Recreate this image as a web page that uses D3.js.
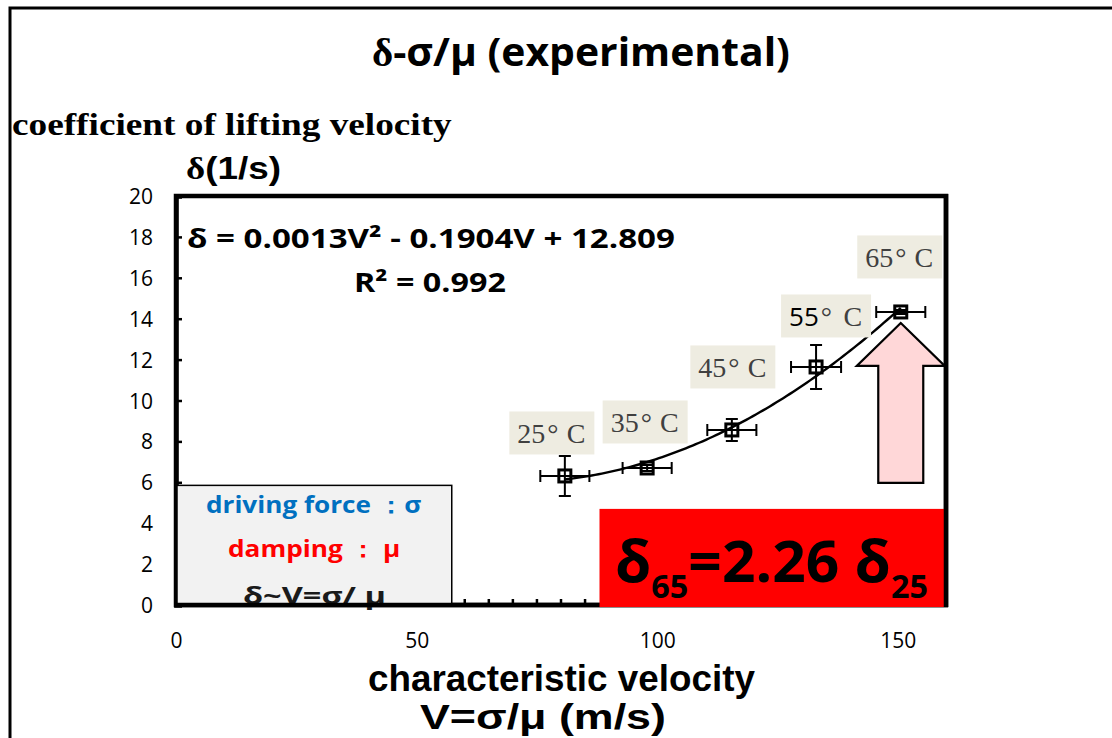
<!DOCTYPE html>
<html>
<head>
<meta charset="utf-8">
<script src="https://cdn.jsdelivr.net/npm/d3@7"></script>
<style>
  html, body { margin: 0; padding: 0; background: #fff; }
  svg { display: block; }
</style>
</head>
<body>
<svg id="chart" width="1112" height="738"></svg>
<script>
// Measured lifting-velocity coefficient vs. characteristic velocity
const temperatures = ["25", "35", "45", "55", "65"];
const velocity = [80.8, 97.9, 115.5, 133.0, 150.6];      // V = σ/μ (m/s)
const delta = [6.31, 6.70, 8.56, 11.64, 14.33];           // δ (1/s)
const velocityError = [5.1, 5.1, 5.1, 5.2, 5.1];
const deltaError = [0.98, 0.15, 0.54, 1.08, 0.10];

const xTickLabels = [0, 50, 100, 150];
const yTickLabels = [0, 2, 4, 6, 8, 10, 12, 14, 16, 18, 20];
const xMinorTicks = [5, 10, 15, 20, 25, 30, 35, 40, 45, 50, 55, 60, 65, 70, 75, 80,
                     85, 90, 95, 100, 105, 110, 115, 120, 125, 130, 135, 140, 145, 150, 155];

const equationText = "δ = 0.0013V² - 0.1904V + 12.809";
const rSquaredText = "R² = 0.992";
const noteLines = ["driving force ：σ", "damping ： μ", "δ~V=σ/ μ"];

// ---------- layout ----------
const W = 1112, H = 738;
const plot = { left: 176, right: 946, top: 196, bottom: 605 };
const SANS = "'Open Sans', 'Noto Sans', sans-serif";
const ARIAL = "'Liberation Sans', Arial, sans-serif";
const SERIF = "'Liberation Serif', 'Times New Roman', serif";

const svg = d3.select("#chart");
svg.append("rect").attr("width", W).attr("height", H).attr("fill", "#fff");

const x = d3.scaleLinear().domain([0, 160]).range([plot.left, plot.right]);
const y = d3.scaleLinear().domain([0, 20]).range([plot.bottom, plot.top]);

const points = velocity.map((v, i) => ({
  t: temperatures[i], v, d: delta[i], ev: velocityError[i], ed: deltaError[i]
}));

// Places a text so its advance width spans `width` px starting at (x0, baseline)
function fitText(parent, x0, baseline, width, build) {
  const t = parent.append("text").attr("x", 0).attr("y", 0);
  build(t);
  const w = t.node().getComputedTextLength();
  t.attr("transform", `translate(${x0},${baseline}) scale(${width / w},1)`);
  return t;
}

// outer frame
svg.append("path")
  .attr("d", `M10,${H} V8 H${W}`)
  .attr("fill", "none").attr("stroke", "#000").attr("stroke-width", 3);

// title
fitText(svg, 372, 66, 418, t => {
  t.attr("font-family", SANS).attr("font-weight", 700).attr("font-size", 39).attr("fill", "#000");
  t.append("tspan").attr("font-family", SERIF).text("δ");
  t.append("tspan").text("-σ/μ (experimental)");
});

// y-axis titles
fitText(svg, 12, 135, 440, t => {
  t.attr("font-family", SERIF).attr("font-weight", 700).attr("font-size", 31).attr("fill", "#000")
    .text("coefficient of lifting velocity");
});
fitText(svg, 186, 179, 95, t => {
  t.attr("font-family", ARIAL).attr("font-weight", 700).attr("font-size", 31).attr("fill", "#000");
  t.append("tspan").attr("font-family", SERIF).text("δ");
  t.append("tspan").text("(1/s)");
});

// x-axis titles
fitText(svg, 368, 691, 387, t => {
  t.attr("font-family", ARIAL).attr("font-weight", 700).attr("font-size", 37).attr("fill", "#000")
    .text("characteristic velocity");
});
fitText(svg, 420, 729, 246, t => {
  t.attr("font-family", ARIAL).attr("font-weight", 700).attr("font-size", 35).attr("fill", "#000")
    .text("V=σ/μ (m/s)");
});

// plot frame
svg.append("rect")
  .attr("x", plot.left).attr("y", plot.top)
  .attr("width", plot.right - plot.left).attr("height", plot.bottom - plot.top)
  .attr("fill", "#fff").attr("stroke", "#000").attr("stroke-width", 4.5);

// y axis: inward ticks, labels on the left
const yAxis = d3.axisLeft(y).tickValues(yTickLabels).tickSize(-6).tickPadding(0).tickFormat(d3.format("d"));
const gy = svg.append("g").attr("transform", `translate(${plot.left},0)`).call(yAxis);
gy.select(".domain").attr("stroke", "#000").attr("stroke-width", 4.5);
gy.selectAll(".tick line").attr("stroke", "#000").attr("stroke-width", 2.5);
gy.selectAll(".tick text")
  .attr("x", 153 - plot.left).attr("dy", "0.36em")
  .attr("font-family", SANS).attr("font-size", 21).attr("fill", "#000");

// x-axis labels (minor ticks drawn inside the frame)
const xAxis = d3.axisBottom(x).tickValues(xTickLabels).tickSize(0).tickPadding(0).tickFormat(d3.format("d"));
const gx = svg.append("g").attr("transform", `translate(0,${plot.bottom})`).call(xAxis);
gx.select(".domain").remove();
gx.selectAll(".tick text")
  .attr("y", 43).attr("dy", 0)
  .attr("font-family", SANS).attr("font-size", 21).attr("fill", "#000");

svg.append("g").selectAll("line").data(xMinorTicks).join("line")
  .attr("x1", d => x(d)).attr("x2", d => x(d))
  .attr("y1", plot.bottom).attr("y2", plot.bottom - 6)
  .attr("stroke", "#000").attr("stroke-width", 2.5);

// note box (lower left)
const noteBox = svg.append("g");
noteBox.append("rect")
  .attr("x", x(0) + 1).attr("y", y(5.85))
  .attr("width", x(57.3) - x(0) - 1).attr("height", y(0) - y(5.85))
  .attr("fill", "#f2f2f2").attr("stroke", "#000").attr("stroke-width", 1.5);
const noteColors = ["#0070c0", "#ff0000", "#1a1a1a"];
const noteSpans = [[206, 513, 215], [228, 557, 172], [243, 604, 143]];
noteLines.forEach((line, i) => {
  const [nx, nb, nw] = noteSpans[i];
  fitText(noteBox, nx, nb, nw, t => {
    t.attr("font-family", SANS).attr("font-weight", 700).attr("font-size", 23)
      .attr("fill", noteColors[i]).text(line);
  });
});

// x axis line drawn over the note box
svg.append("line")
  .attr("x1", plot.left - 2).attr("x2", plot.right + 2)
  .attr("y1", plot.bottom).attr("y2", plot.bottom)
  .attr("stroke", "#000").attr("stroke-width", 4.5);

// quadratic least-squares trendline through the measurements
function quadFit(xs, ys) {
  const n = xs.length;
  const s = [0, 0, 0, 0, 0], b = [0, 0, 0];
  for (let i = 0; i < n; i++) {
    const xi = xs[i], yi = ys[i];
    for (let k = 0; k < 5; k++) s[k] += Math.pow(xi, k);
    for (let k = 0; k < 3; k++) b[k] += yi * Math.pow(xi, k);
  }
  const A = [[s[0], s[1], s[2], b[0]], [s[1], s[2], s[3], b[1]], [s[2], s[3], s[4], b[2]]];
  for (let c = 0; c < 3; c++) {
    for (let r = c + 1; r < 3; r++) {
      const f = A[r][c] / A[c][c];
      for (let k = c; k < 4; k++) A[r][k] -= f * A[c][k];
    }
  }
  const coef = [0, 0, 0];
  for (let r = 2; r >= 0; r--) {
    let v = A[r][3];
    for (let k = r + 1; k < 3; k++) v -= A[r][k] * coef[k];
    coef[r] = v / A[r][r];
  }
  return v => coef[0] + coef[1] * v + coef[2] * v * v;
}
const trend = quadFit(velocity, delta);
const vMin = d3.min(velocity), vMax = d3.max(velocity);
const trendPts = d3.range(0, 101).map(k => vMin + (vMax - vMin) * k / 100);
svg.append("path")
  .attr("d", d3.line().x(v => x(v)).y(v => y(trend(v)))(trendPts))
  .attr("fill", "none").attr("stroke", "#000").attr("stroke-width", 2.4);

// error bars
const eb = svg.append("g").attr("stroke", "#000").attr("stroke-width", 2).attr("fill", "none");
const cap = 6;
points.forEach(p => {
  const cx = x(p.v), cy = y(p.d);
  const x0 = x(p.v - p.ev), x1 = x(p.v + p.ev);
  const y0 = y(p.d - p.ed), y1 = y(p.d + p.ed);
  eb.append("path").attr("d",
    `M${x0},${cy}H${x1}M${x0},${cy - cap}V${cy + cap}M${x1},${cy - cap}V${cy + cap}` +
    `M${cx},${y0}V${y1}M${cx - cap},${y0}H${cx + cap}M${cx - cap},${y1}H${cx + cap}`);
});

// square markers
svg.append("g").selectAll("rect").data(points).join("rect")
  .attr("x", d => x(d.v) - 6).attr("y", d => y(d.d) - 6)
  .attr("width", 12).attr("height", 12)
  .attr("fill", "none").attr("stroke", "#000").attr("stroke-width", 3);

// temperature labels (box centre offsets from each point, px)
const labelOffsets = [[-13, -43], [-2, -46], [1, -63], [10, -51], [-1, -55]];
const labelWidths = [85, 85, 85, 90, 85];
const lab = svg.append("g");
points.forEach((p, i) => {
  const cx = x(p.v) + labelOffsets[i][0], cy = y(p.d) + labelOffsets[i][1];
  const w = labelWidths[i], h = 43;
  const left = cx - w / 2, right = cx + w / 2, base = cy + 10;
  lab.append("rect").attr("x", left).attr("y", cy - h / 2)
    .attr("width", w).attr("height", h).attr("fill", "#eeece1");
  const num = lab.append("text").attr("x", left + 8).attr("y", base)
    .attr("font-family", SERIF).attr("font-size", 28).attr("fill", "#404040");
  if (p.t === "55") {
    num.append("tspan").attr("font-family", SANS).attr("fill", "#000").attr("font-size", 26).text(p.t);
  } else {
    num.append("tspan").text(p.t);
  }
  num.append("tspan").attr("dx", 2).text("°");
  lab.append("text").attr("x", right - 9).attr("y", base).attr("text-anchor", "end")
    .attr("font-family", SERIF).attr("font-size", 28).attr("fill", "#404040").text("C");
});

// pink arrow pointing up at the 65 °C point
const lastPt = points[points.length - 1];
const tipX = x(lastPt.v), tipY = y(lastPt.d) + 11;
const headH = 43, headHalf = 44, shaftHalf = 22.5, arrowLen = 160;
svg.append("path")
  .attr("d", `M${tipX},${tipY} L${tipX + headHalf},${tipY + headH} H${tipX + shaftHalf}` +
    ` V${tipY + arrowLen} H${tipX - shaftHalf} V${tipY + headH} H${tipX - headHalf} Z`)
  .attr("fill", "#ffd7d8").attr("stroke", "#000").attr("stroke-width", 2.2)
  .attr("stroke-linejoin", "miter");

// red result box
const red = svg.append("g");
red.append("rect")
  .attr("x", x(88)).attr("y", y(4.7))
  .attr("width", x(160) - x(88) - 2).attr("height", y(0) - y(4.7) + 2)
  .attr("fill", "#ff0000");
fitText(red, 615, 582, 313, t => {
  t.attr("font-family", SANS).attr("font-weight", 700).attr("font-size", 58).attr("fill", "#000");
  t.append("tspan").text("δ");
  t.append("tspan").attr("font-size", 32).attr("dy", 16).text("65");
  t.append("tspan").attr("dy", -16).text("=2.26 δ");
  t.append("tspan").attr("font-size", 32).attr("dy", 16).text("25");
});

// right frame edge over the red box
svg.append("line")
  .attr("x1", plot.right).attr("x2", plot.right)
  .attr("y1", plot.top - 2).attr("y2", plot.bottom + 2)
  .attr("stroke", "#000").attr("stroke-width", 4.5);

// trendline equation
fitText(svg, 187, 248, 488, t => {
  t.attr("font-family", SANS).attr("font-weight", 700).attr("font-size", 27).attr("fill", "#000")
    .text(equationText);
});
fitText(svg, 354, 292, 152, t => {
  t.attr("font-family", SANS).attr("font-weight", 700).attr("font-size", 27).attr("fill", "#000")
    .text(rSquaredText);
});
</script>
</body>
</html>
